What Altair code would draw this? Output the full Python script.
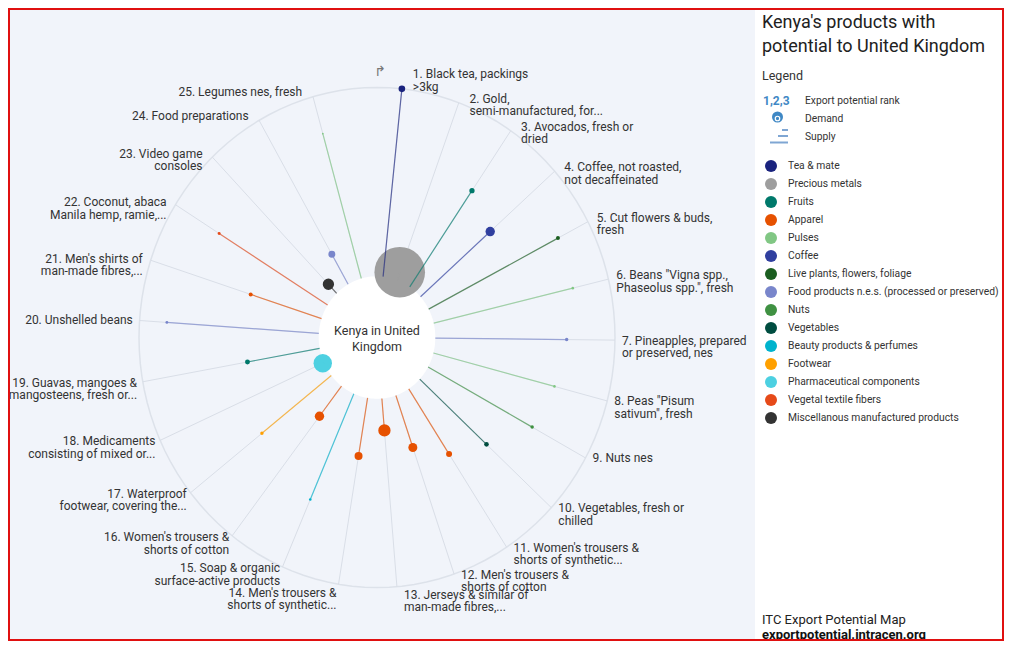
import altair as alt
import pandas as pd

# ---------------- data ----------------
ranks = list(range(1, 26))
products = [
    "Black tea, packings\n>3kg",
    "Gold,\nsemi-manufactured, for...",
    "Avocados, fresh or\ndried",
    "Coffee, not roasted,\nnot decaffeinated",
    "Cut flowers & buds,\nfresh",
    'Beans "Vigna spp.,\nPhaseolus spp.", fresh',
    "Pineapples, prepared\nor preserved, nes",
    'Peas "Pisum\nsativum", fresh',
    "Nuts nes",
    "Vegetables, fresh or\nchilled",
    "Women's trousers &\nshorts of synthetic...",
    "Men's trousers &\nshorts of cotton",
    "Jerseys & similar of\nman-made fibres,...",
    "Men's trousers &\nshorts of synthetic...",
    "Soap & organic\nsurface-active products",
    "Women's trousers &\nshorts of cotton",
    "Waterproof\nfootwear, covering the...",
    "Medicaments\nconsisting of mixed or...",
    "Guavas, mangoes &\nmangosteens, fresh or...",
    "Unshelled beans",
    "Men's shirts of\nman-made fibres,...",
    "Coconut, abaca\nManila hemp, ramie,...",
    "Video game\nconsoles",
    "Food preparations",
    "Legumes nes, fresh",
]
FOOD = "Food products n.e.s. (processed or preserved)"
product_category = [
    "Tea & mate", "Precious metals", "Fruits", "Coffee", "Live plants, flowers, foliage",
    "Pulses", FOOD, "Pulses", "Nuts", "Vegetables",
    "Apparel", "Apparel", "Apparel", "Apparel", "Beauty products & perfumes",
    "Apparel", "Footwear", "Pharmaceutical components", "Fruits", FOOD,
    "Apparel", "Vegetal textile fibers", "Miscellanous manufactured products", FOOD, "Pulses",
]
# radial position of each dot (0 = centre, 1 = outer ring)
supply_position = [1.00, 0.278, 0.71, 0.637, 0.858, 0.846, 0.797, 0.771, 0.744, 0.628,
                   0.556, 0.465, 0.373, 0.48, 0.706, 0.397, 0.617, 0.25, 0.553, 0.885,
                   0.558, 0.783, 0.295, 0.383, 0.847]
# demand (relative, drives bubble area)
demand = [11, 640, 7, 22, 4, 1.7, 3, 1.7, 3, 5.3,
          9, 20, 38, 16, 1.7, 22, 3, 85, 6, 2,
          4, 2.2, 32, 12, 0.7]

legend_cats = ["Tea & mate", "Precious metals", "Fruits", "Apparel", "Pulses", "Coffee",
               "Live plants, flowers, foliage", FOOD, "Nuts", "Vegetables",
               "Beauty products & perfumes", "Footwear", "Pharmaceutical components",
               "Vegetal textile fibers", "Miscellanous manufactured products"]
legend_colors = ["#1a237e", "#9e9e9e", "#00796b", "#e65100", "#81c784", "#303f9f",
                 "#1b5e20", "#7986cb", "#3f9142", "#004d40", "#00b3cd", "#ffa000",
                 "#4dd0e1", "#e64a19", "#333333"]

df = pd.DataFrame({"rank": ranks, "name": products, "category": product_category,
                   "pos": supply_position, "demand": demand})

# ---------------- layout ----------------
W, H = 996, 633
CX, CY = 369.0, 329.5      # centre of the radial plot (px)
RX, RY = 238.0, 250.0      # outer ring radii (px)
R0 = 0.245                 # inner hole radius (fraction)

xs = alt.Scale(domain=[-CX / RX, (W - CX) / RX], nice=False, zero=False)
ys = alt.Scale(domain=[-(H - CY) / RY, CY / RY], nice=False, zero=False)
X = lambda f: alt.X(f, type="quantitative", scale=xs, axis=None)
Y = lambda f: alt.Y(f, type="quantitative", scale=ys, axis=None)

FONT = "Roboto"
TXT = "#333333"
one = pd.DataFrame({"a": [0]})

base = (alt.Chart(df)
        .transform_calculate(deg="6 + (datum.rank - 1) * 14.1")
        .transform_calculate(ang="datum.deg * PI / 180")
        .transform_calculate(sx="sin(datum.ang)", cy="cos(datum.ang)")
        .transform_calculate(x0=f"{R0} * datum.sx", y0=f"{R0} * datum.cy",
                             xd="datum.pos * datum.sx", yd="datum.pos * datum.cy"))

bg = alt.Chart(one).mark_rect(color="#f1f4fa").encode(
    x=alt.value(0), x2=alt.value(747), y=alt.value(0), y2=alt.value(H))

ring = (alt.Chart(alt.sequence(0, 361, 3, as_="t"))
        .transform_calculate(ox="cos(datum.t * PI / 180)", oy="sin(datum.t * PI / 180)")
        .mark_line(color="#dde2ea", strokeWidth=1.5)
        .encode(x=X("ox"), y=Y("oy"), order="t:Q"))

spokes = base.mark_rule(color="#d9dee7", strokeWidth=1).encode(
    x=X("x0"), y=Y("y0"), x2="sx:Q", y2="cy:Q")

hole = (alt.Chart(alt.sequence(0, 181, 2, as_="t"))
        .transform_calculate(ix=f"{R0} * cos(datum.t * PI / 180)",
                             iy=f"{R0} * sin(datum.t * PI / 180)")
        .transform_calculate(iy2="-datum.iy")
        .mark_area(color="white")
        .encode(x=X("ix"), y=Y("iy"), y2="iy2:Q"))

dots = base.mark_circle(opacity=1, strokeWidth=0).encode(
    x=X("xd"), y=Y("yd"),
    color=alt.Color("category:N", scale=alt.Scale(domain=legend_cats, range=legend_colors),
                    legend=alt.Legend(orient="none", legendX=757, legendY=152, title=None,
                                      symbolType="circle", symbolSize=144, symbolStrokeWidth=0,
                                      symbolOpacity=1, labelFont=FONT, labelFontSize=10.3,
                                      labelColor=TXT, labelOffset=11, rowPadding=6,
                                      padding=0, labelLimit=400)),
    size=alt.Size("demand:Q", scale=alt.Scale(domain=[0, 640], range=[0, 2560]), legend=None),
)

lines = base.mark_rule(strokeWidth=1.2, strokeOpacity=0.65).encode(
    x=X("x0"), y=Y("y0"), x2="xd:Q", y2="yd:Q",
    stroke=alt.Stroke("category:N", scale=alt.Scale(domain=legend_cats, range=legend_colors),
                      legend=None))

center_txt = alt.Chart(one).transform_calculate(cx0="0", cy0="0").mark_text(
    text="Kenya in United\nKingdom", lineBreak="\n", align="center", baseline="middle",
    font=FONT, fontSize=12.5, lineHeight=16, color=TXT, dy=-7).encode(x=X("cx0"), y=Y("cy0"))

labR = (base.transform_filter("datum.rank <= 13")
        .transform_calculate(
            dxp="7 + 4 * max(0, datum.cy)",
            dyp="datum.deg < 10 ? -20 : (datum.cy > 0 ? -9 : (abs(datum.deg - 182) < 10 ? 3 : -4.5))")
        .transform_calculate(lx=f"datum.sx + datum.dxp / {RX}",
                             ly=f"datum.cy - datum.dyp / {RY}",
                             txt="datum.rank + '. ' + datum.name")
        .mark_text(align="left", baseline="top", font=FONT, fontSize=12, lineHeight=12.7,
                   color=TXT, lineBreak="\n")
        .encode(x=X("lx"), y=Y("ly"), text="txt:N"))

labL = (base.transform_filter("datum.rank >= 14")
        .transform_calculate(
            dxp="-(6.5 + 4.5 * datum.cy)",
            dyp="datum.cy > 0 ? (-5.5 - 4 * datum.cy) : (abs(datum.deg - 182) < 10 ? 3.5 : -4)")
        .transform_calculate(lx=f"datum.sx + datum.dxp / {RX}",
                             ly=f"datum.cy - datum.dyp / {RY}",
                             txt="datum.rank + '. ' + datum.name")
        .mark_text(align="right", baseline="top", font=FONT, fontSize=12, lineHeight=12.7,
                   color=TXT, lineBreak="\n")
        .encode(x=X("lx"), y=Y("ly"), text="txt:N"))

arrow = alt.Chart(one).mark_text(text="↱", font="DejaVu Sans", fontSize=14, color="#777",
                                 align="center", baseline="middle").encode(
    x=alt.value(372), y=alt.value(64))


def note(text, x, y, size=10.3, weight="normal", color=TXT):
    return alt.Chart(one).mark_text(text=text, font=FONT, fontSize=size, fontWeight=weight,
                                    color=color, align="left", baseline="middle").encode(
        x=alt.value(x), y=alt.value(y))


panel = [
    note("Kenya's products with", 754, 15, 18, color="#212121"),
    note("potential to United Kingdom", 754, 38.5, 18, color="#212121"),
    note("Legend", 754, 68, 12.5),
    note("1,2,3", 755, 92.5, 12, "bold", "#3f88c5"),
    note("Export potential rank", 797, 92.5),
    note("Demand", 797, 110.5),
    note("Supply", 797, 128.5),
    note("ITC Export Potential Map", 754, 612, 13, color="#222"),
    note("exportpotential.intracen.org", 754, 626.5, 13, "bold", "#111"),
]

demand_icon = alt.Chart(one).mark_point(filled=True, shape="circle", size=121,
                                        color="#3f88c5", opacity=1).encode(
    x=alt.value(769.5), y=alt.value(109))
demand_icon2 = alt.Chart(one).mark_point(filled=False, shape="circle", size=20,
                                         color="white", strokeWidth=1.2, opacity=1).encode(
    x=alt.value(769.5), y=alt.value(110.5))
sup = [
    alt.Chart(one).mark_rule(color="#7fa6d3", strokeWidth=2).encode(
        x=alt.value(x1), x2=alt.value(780), y=alt.value(yy))
    for x1, yy in [(774, 122), (770, 128), (762, 134.5)]
]

frame = alt.Chart(one).mark_rect(fill="transparent", stroke="#e01010", strokeWidth=2).encode(
    x=alt.value(1), x2=alt.value(W - 1), y=alt.value(1), y2=alt.value(H - 1))

chart = alt.layer(bg, ring, spokes, hole, dots, lines, center_txt, labR, labL, arrow,
                  demand_icon, demand_icon2, *sup, *panel, frame).properties(
    width=W, height=H, padding=0, autosize=alt.AutoSizeParams(type="none"),
    background="white",
).configure_view(strokeWidth=0)

chart.save("out.html", embed_options={"renderer": "svg", "actions": False})
